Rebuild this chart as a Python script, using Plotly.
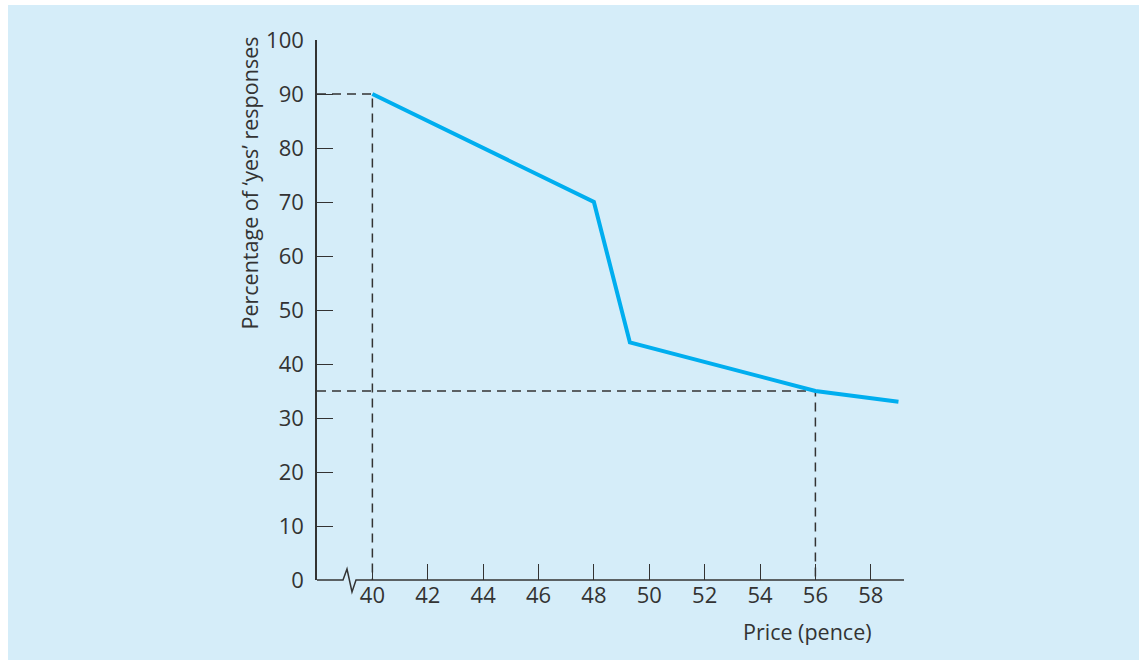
import plotly.graph_objects as go

# Survey results: share of 'yes' answers at each tested price
price = [40, 48, 49.3, 56, 59]
pct_yes = [90, 70, 44, 35, 33]

# Reference readings marked with dashed guides (price, percentage)
guide_points = [(40, 90), (56, 35)]

x_ticks = [40, 42, 44, 46, 48, 50, 52, 54, 56, 58]
y_ticks = [0, 10, 20, 30, 40, 50, 60, 70, 80, 90, 100]

X_MIN, X_MAX = 38, 59.2
BG = "#d5edf9"
INK = "#333333"
FONT = "Open Sans"

W, H = 1139, 660
ML, MR, MT, MB = 317, 235, 40, 80

fig = go.Figure()

# dashed guide lines from each axis to the reading
for gx, gy in guide_points:
    fig.add_trace(go.Scatter(
        x=[X_MIN, gx, gx], y=[gy, gy, 0], mode="lines",
        line=dict(color=INK, width=1.5, dash="9px,6px"),
        hoverinfo="skip", showlegend=False,
    ))

fig.add_trace(go.Scatter(
    x=price, y=pct_yes, mode="lines",
    line=dict(color="#00aeef", width=4),
    showlegend=False,
))

# horizontal axis with a break mark near the origin
px = (X_MAX - X_MIN) / (W - ML - MR)   # data units per pixel
py = 1 / (H - MT - MB)                 # paper units per pixel
zig = [(X_MIN, 0), (X_MIN + 26 * px, 0), (X_MIN + 30 * px, 11 * py),
       (X_MIN + 35 * px, -12 * py), (X_MIN + 39 * px, 0), (X_MAX, 0)]
path = "M " + " L ".join(f"{x},{y}" for x, y in zig)

shapes = [
    dict(type="rect", xref="paper", yref="paper",
         x0=-(ML - 8) / (W - ML - MR), x1=1 + MR / (W - ML - MR),
         y0=-MB / (H - MT - MB), y1=1 + (MT - 5) / (H - MT - MB),
         fillcolor=BG, line=dict(width=0), layer="below"),
    dict(type="path", xref="x", yref="paper", path=path,
         line=dict(color=INK, width=1.5)),
]

tick_font = dict(family=FONT, size=22, color=INK)
title_font = dict(family=FONT, size=21.5, color=INK)

fig.update_layout(
    width=W, height=H,
    margin=dict(l=ML, r=MR, t=MT, b=MB),
    paper_bgcolor="white", plot_bgcolor=BG,
    font=dict(family=FONT, size=22, color=INK),
    shapes=shapes,
    xaxis=dict(range=[X_MIN, X_MAX], tickvals=x_ticks, tickfont=tick_font,
               ticks="inside", ticklen=16, tickwidth=1.4, tickcolor=INK,
               showline=False, showgrid=False, zeroline=False,
               ticklabelstandoff=0),
    yaxis=dict(range=[0, 100], tickvals=y_ticks, tickfont=tick_font,
               ticks="inside", ticklen=16, tickwidth=1.4, tickcolor=INK,
               showline=True, linecolor=INK, linewidth=1.5,
               showgrid=False, zeroline=False, ticklabelstandoff=7),
    annotations=[
        dict(text="Percentage of \u2018yes\u2019 responses", textangle=-90,
             xref="paper", yref="paper",
             x=-(ML - 249) / (W - ML - MR), y=1 + 5 * py,
             xanchor="center", yanchor="top", showarrow=False,
             font=title_font),
        dict(text="Price (pence)", xref="paper", yref="paper",
             x=(874 - ML) / (W - ML - MR), y=-(631 - (H - MB)) * py,
             xanchor="right", yanchor="middle", showarrow=False,
             font=title_font),
    ],
)

fig.write_html("out.html")
